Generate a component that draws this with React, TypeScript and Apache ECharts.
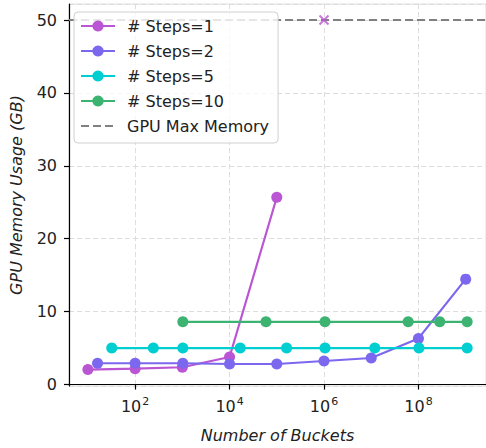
import React, { useEffect, useRef } from 'react';
import * as echarts from 'echarts';

// ---- data ----
const steps1Buckets = [10, 100, 1000, 10000, 100000];
const steps1Memory = [2.05, 2.18, 2.37, 3.78, 25.7];

const steps2Buckets = [16, 100, 1024, 10000, 100000, 1000000, 10000000, 100000000, 1000000000];
const steps2Memory = [2.92, 2.92, 2.92, 2.82, 2.82, 3.23, 3.64, 6.33, 14.46];

const steps5Buckets = [32, 243, 1024, 16807, 161051, 1048576, 11881376, 102400000, 1073741824];
const steps5Memory = [5.0, 5.0, 5.0, 5.0, 5.0, 5.0, 5.0, 5.0, 5.0];

const steps10Buckets = [1024, 59049, 1048576, 60466176, 282475249, 1073741824];
const steps10Memory = [8.6, 8.6, 8.6, 8.6, 8.6, 8.6];

// out-of-memory marker for # Steps=1
const oomBuckets = [1000000];
const oomMemory = [50];

const gpuMaxMemory = 50;

const seriesNames = ['# Steps=1', '# Steps=2', '# Steps=5', '# Steps=10'];
const seriesColors = ['#BA55D3', '#7B68EE', '#00CED1', '#3CB371'];
const maxLineName = 'GPU Max Memory';

// axis extents (log10 exponents for x)
const xMinExp = 0.6;
const xMaxExp = 9.43;
const yMin = -0.2;
const yMax = 52.2;

const FONT = 'DejaVu Sans';

function zip(xs: number[], ys: number[]) {
  return xs.map((x, i) => [x, ys[i]]);
}

export default function App() {
  const ref = useRef<HTMLDivElement>(null);
  useEffect(() => {
    if (!ref.current) return;
    const chart = echarts.init(ref.current, undefined, { renderer: 'svg' });
    const xMin = Math.pow(10, xMinExp);
    const xMax = Math.pow(10, xMaxExp);
    const lineSeries = [
      [steps1Buckets, steps1Memory],
      [steps2Buckets, steps2Memory],
      [steps5Buckets, steps5Memory],
      [steps10Buckets, steps10Memory],
    ].map(([xs, ys], i) => ({
      name: seriesNames[i],
      type: 'line',
      data: zip(xs, ys),
      symbol: 'circle',
      symbolSize: 11,
      showSymbol: true,
      lineStyle: { color: seriesColors[i], width: 2.2 },
      itemStyle: { color: seriesColors[i] },
      z: 3 + i,
    }));
    const option = {
      animation: false,
      backgroundColor: '#fff',
      textStyle: { fontFamily: FONT },
      grid: {
        left: 66,
        top: 4,
        right: -2,
        height: 384,
        show: true,
        borderColor: '#dddddd',
        borderWidth: 1,
        backgroundColor: 'transparent',
      },
      legend: {
        orient: 'vertical',
        left: 74,
        top: 12,
        padding: [6, 9, 9, 6],
        itemWidth: 34,
        itemHeight: 14,
        itemGap: 9,
        backgroundColor: 'rgba(255,255,255,0.8)',
        borderColor: '#d0d0d0',
        borderWidth: 1,
        borderRadius: 4,
        textStyle: { fontFamily: FONT, fontSize: 16, color: '#222', padding: [0, 0, 0, 7] },
        data: [
          ...seriesNames,
          { name: maxLineName, itemStyle: { opacity: 0, color: 'transparent', borderWidth: 0 } },
        ],
      },
      xAxis: {
        type: 'log',
        logBase: 100,
        min: xMin,
        max: xMax,
        name: 'Number of Buckets',
        nameLocation: 'middle',
        nameGap: 41,
        nameTextStyle: { fontFamily: FONT, fontSize: 16, fontStyle: 'italic', color: '#222' },
        axisLine: { show: true, lineStyle: { color: '#000', width: 1.2 } },
        axisTick: { show: true, length: 5, lineStyle: { color: '#000', width: 1.2 } },
        axisLabel: {
          showMinLabel: false,
          showMaxLabel: false,
          margin: 10,
          color: '#222',
          fontFamily: FONT,
          formatter: (v: number) => {
            const e = Math.round(Math.log10(v));
            return '{b|10}{s|' + e + '}';
          },
          rich: {
            b: { fontFamily: FONT, fontSize: 16, color: '#222' },
            s: { fontFamily: FONT, fontSize: 11, color: '#222', padding: [0, 0, 9, 1] },
          },
        },
        splitLine: { show: true, lineStyle: { color: '#dddddd', width: 1, type: [5, 3] } },
        minorTick: { show: false },
      },
      yAxis: {
        type: 'value',
        min: yMin,
        max: yMax,
        name: 'GPU Memory Usage (GB)',
        nameLocation: 'middle',
        nameGap: 45,
        nameTextStyle: { fontFamily: FONT, fontSize: 16, fontStyle: 'italic', color: '#222' },
        axisLine: { show: true, lineStyle: { color: '#000', width: 1.2 } },
        axisTick: { show: true, length: 5, lineStyle: { color: '#000', width: 1.2 } },
        axisLabel: {
          showMinLabel: false,
          showMaxLabel: false,
          margin: 12,
          color: '#222',
          fontFamily: FONT,
          fontSize: 16,
        },
        splitLine: { show: true, lineStyle: { color: '#dddddd', width: 1, type: [5, 3] } },
      },
      series: [
        ...lineSeries,
        {
          name: maxLineName,
          type: 'line',
          data: [
            [xMin, gpuMaxMemory],
            [xMax, gpuMaxMemory],
          ],
          symbol: 'none',
          showSymbol: false,
          lineStyle: { color: '#808080', width: 2, type: [8, 4] },
          itemStyle: { color: '#808080' },
          z: 2,
        },
        {
          name: 'OOM',
          type: 'scatter',
          data: zip(oomBuckets, oomMemory),
          symbol: 'path://M0,0 L10,10 M10,0 L0,10',
          symbolSize: 9,
          itemStyle: { color: 'none', borderColor: '#BA55D3', borderWidth: 2 },
          z: 8,
        },
      ],
    };
    chart.setOption(option as any);
    return () => chart.dispose();
  }, []);
  return <div ref={ref} style={{ width: 486, height: 448, position: 'absolute', left: 0, top: 0 }} />;
}
